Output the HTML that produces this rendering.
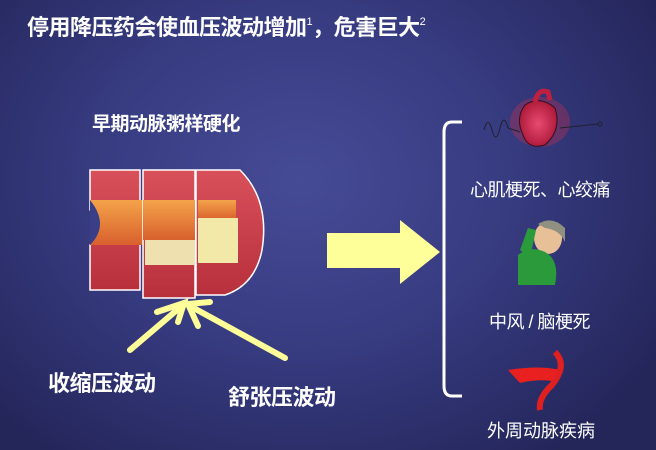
<!DOCTYPE html>
<html><head><meta charset="utf-8"><style>
html,body{margin:0;padding:0}
body{width:656px;height:450px;overflow:hidden;position:relative;
background:radial-gradient(ellipse 420px 340px at 300px 180px,#464b96 0%,#373b80 50%,#24265a 100%);
font-family:"Liberation Sans","Noto Sans CJK SC",sans-serif;color:#fff}
.t{position:absolute;white-space:nowrap}
sup{font-size:11px;vertical-align:10px;font-weight:normal}
</style></head><body>
<div class="t" style="left:27px;top:10px;font-size:22px;font-weight:bold;letter-spacing:-0.5px">停用降压药会使血压波动增加<sup>1</sup>，危害巨大<sup>2</sup></div>
<div class="t" style="left:92px;top:109px;font-size:19px;font-weight:bold;letter-spacing:-0.5px">早期动脉粥样硬化</div>
<svg width="656" height="450" style="position:absolute;left:0;top:0">
<defs>
<linearGradient id="w" x1="0" y1="0" x2="0" y2="1"><stop offset="0" stop-color="#d8505a"/><stop offset="1" stop-color="#b8303c"/></linearGradient>
<linearGradient id="in" x1="0" y1="0" x2="0" y2="1"><stop offset="0" stop-color="#f4a34a"/><stop offset="1" stop-color="#d8602e"/></linearGradient>
<radialGradient id="h"><stop offset="0" stop-color="#e84a70"/><stop offset="1" stop-color="#b01c3c"/></radialGradient>
</defs>
<g stroke="#fff" stroke-width="1.5">
<path d="M90 170 L140 170 L140 290 L90 290 L90 245 Q110 230 90 210 Z" fill="url(#w)"/>
<rect x="90" y="200" width="55" height="45" fill="url(#in)" stroke="none"/>
<path d="M90 200 Q110 225 90 245" fill="#3a3e86" stroke="none"/>
<path d="M143 170 L195 170 L195 298 L143 298 Z" fill="url(#w)"/>
<rect x="143" y="200" width="52" height="40" fill="url(#in)" stroke="none"/>
<rect x="145" y="240" width="50" height="25" fill="#efe0b0" stroke="none"/>
<path d="M196 170 L240 170 Q270 200 262 250 Q255 285 225 295 L196 295 Z" fill="url(#w)"/>
<rect x="198" y="200" width="38" height="20" fill="url(#in)" stroke="none"/>
<rect x="198" y="218" width="40" height="45" fill="#f2e8a8" stroke="none"/>
</g>
<polygon points="327,233 400,233 400,220 440,252 400,284 400,268 327,268" fill="#ffff99"/>
<g stroke="#ffff99" stroke-width="6" fill="none" stroke-linecap="round">
<line x1="130" y1="350" x2="184" y2="304"/>
<line x1="285" y1="358" x2="190" y2="306"/>
<polyline points="157,312 184,303 178,322" />
<polyline points="210,302 188,304 198,326"/>
</g>
<path d="M462 122 L452 122 Q444 122 444 132 L444 386 Q444 396 452 396 L462 396" stroke="#fff" stroke-width="3" fill="none"/>
<ellipse cx="540" cy="122" rx="30" ry="25" fill="#c83050" opacity="0.35"/>
<path d="M525 105 Q540 95 555 108 Q562 130 545 145 Q528 150 523 135 Q515 118 525 105Z" fill="url(#h)" stroke="#301020" stroke-width="1"/>
<path d="M535 102 Q538 88 548 92 L550 100" stroke="#c02040" stroke-width="5" fill="none"/>
<path d="M484 130 Q488 115 492 130 Q496 145 500 128 Q504 112 508 128 L520 132" stroke="#202030" fill="none"/>
<line x1="560" y1="128" x2="598" y2="124" stroke="#202030"/>
<circle cx="600" cy="124" r="2" fill="none" stroke="#202030"/>
<ellipse cx="548" cy="238" rx="14" ry="16" fill="#e8c098"/>
<path d="M538 224 Q552 215 565 228 L565 242 Q560 230 545 228Z" fill="#909080"/>
<path d="M518 255 Q530 245 545 252 Q560 260 555 285 L518 285Z" fill="#2a9a3a"/>
<path d="M520 250 L528 228 L536 230 L530 258Z" fill="#2a9a3a"/>
<path d="M508 370 Q540 365 560 370 L558 382 Q540 378 520 383 Z" fill="#e82020"/>
<path d="M555 352 Q568 365 552 385 Q538 398 540 410" stroke="#e02020" stroke-width="6" fill="none"/>
</svg>
<div class="t" style="left:470px;top:176px;font-size:18px;letter-spacing:-0.5px">心肌梗死、心绞痛</div>
<div class="t" style="left:489px;top:308px;font-size:18px;letter-spacing:-0.5px">中风 / 脑梗死</div>
<div class="t" style="left:487px;top:417px;font-size:18px">外周动脉疾病</div>
<div class="t" style="left:48px;top:366px;font-size:22px;font-weight:bold;letter-spacing:-0.5px">收缩压波动</div>
<div class="t" style="left:228px;top:380px;font-size:22px;font-weight:bold;letter-spacing:-0.5px">舒张压波动</div>
</body></html>
